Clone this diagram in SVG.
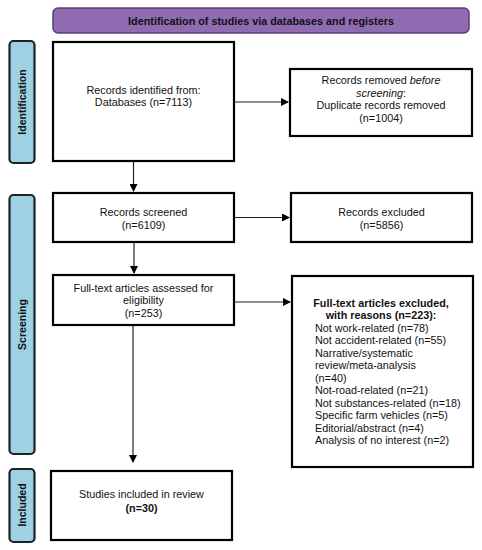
<svg xmlns="http://www.w3.org/2000/svg" width="482" height="550" viewBox="0 0 482 550">
<defs>
<marker id="ah" markerWidth="8" markerHeight="8" refX="7" refY="4" orient="auto" markerUnits="userSpaceOnUse">
<path d="M0,0 L8,4 L0,8 Z" fill="#000"/>
</marker>
<style>
text{font-family:"Liberation Sans",Arial,sans-serif;font-size:10.8px;fill:#111}
.b{font-weight:bold}
.box{fill:#fff;stroke:#000;stroke-width:2.2}
.side{fill:#9ed2e3;stroke:#1b2328;stroke-width:2.2}
.head{fill:#8f6bb2;stroke:#5b3f7c;stroke-width:1.5}
.con{stroke:#222;stroke-width:1.2;fill:none;marker-end:url(#ah)}
.sl{font-weight:bold;font-size:10.5px}
</style>
</defs>
<rect width="482" height="550" fill="#fff"/>
<g id="header">
<rect class="head" x="53" y="8" width="416" height="25" rx="5"/>
<text class="b" x="261" y="24.5" text-anchor="middle">Identification of studies via databases and registers</text>
</g>
<g id="side-identification">
<rect class="side" x="9.5" y="41" width="25" height="122" rx="4"/>
<text class="sl" transform="translate(26,102) rotate(-90)" text-anchor="middle">Identification</text>
</g>
<g id="side-screening">
<rect class="side" x="9.5" y="195" width="25" height="259" rx="4"/>
<text class="sl" transform="translate(26,324.5) rotate(-90)" text-anchor="middle">Screening</text>
</g>
<g id="side-included">
<rect class="side" x="9.5" y="469" width="25" height="73" rx="4"/>
<text class="sl" transform="translate(26,505) rotate(-90)" text-anchor="middle">Included</text>
</g>
<g id="identified">
<rect class="box" x="53" y="42" width="181" height="119"/>
<text x="143.5" y="94" text-anchor="middle">Records identified from:</text>
<text x="143.5" y="106" text-anchor="middle">Databases (n=7113)</text>
</g>
<g id="removed">
<rect class="box" x="290" y="69" width="182" height="67"/>
<text x="381" y="84" text-anchor="middle">Records removed <tspan font-style="italic">before</tspan></text>
<text x="381" y="96.5" text-anchor="middle"><tspan font-style="italic">screening</tspan>:</text>
<text x="381" y="109" text-anchor="middle">Duplicate records removed</text>
<text x="381" y="121.5" text-anchor="middle">(n=1004)</text>
</g>
<g id="screened">
<rect class="box" x="53" y="193" width="181" height="49"/>
<text x="143.5" y="216" text-anchor="middle">Records screened</text>
<text x="143.5" y="229" text-anchor="middle">(n=6109)</text>
</g>
<g id="excluded">
<rect class="box" x="291" y="193" width="181" height="49"/>
<text x="381.5" y="216" text-anchor="middle">Records excluded</text>
<text x="381.5" y="229" text-anchor="middle">(n=5856)</text>
</g>
<g id="fulltext">
<rect class="box" x="53" y="275" width="181" height="50"/>
<text x="143.5" y="291.5" text-anchor="middle">Full-text articles assessed for</text>
<text x="143.5" y="304" text-anchor="middle">eligibility</text>
<text x="143.5" y="316.5" text-anchor="middle">(n=253)</text>
</g>
<g id="ft-excluded">
<rect class="box" x="292" y="276" width="181" height="191"/>
<text class="b" x="381" y="306.5" text-anchor="middle">Full-text articles excluded,</text>
<text class="b" x="381" y="319" text-anchor="middle">with reasons (n=223):</text>
<text x="315" y="331.5">Not work-related (n=78)</text>
<text x="315" y="344">Not accident-related (n=55)</text>
<text x="315" y="356.5">Narrative/systematic</text>
<text x="315" y="369">review/meta-analysis</text>
<text x="315" y="381.5">(n=40)</text>
<text x="315" y="394">Not-road-related (n=21)</text>
<text x="315" y="406.5">Not substances-related (n=18)</text>
<text x="315" y="419">Specific farm vehicles (n=5)</text>
<text x="315" y="431.5">Editorial/abstract (n=4)</text>
<text x="315" y="444">Analysis of no interest (n=2)</text>
</g>
<g id="included">
<rect class="box" x="51" y="471" width="181" height="69"/>
<text x="141.5" y="497.5" text-anchor="middle">Studies included in review</text>
<text class="b" x="141.5" y="511.5" text-anchor="middle">(n=30)</text>
</g>
<g id="connectors">
<line class="con" x1="235" y1="102" x2="288" y2="102"/>
<line class="con" x1="133.5" y1="162" x2="133.5" y2="191"/>
<line class="con" x1="235" y1="217.5" x2="289" y2="217.5"/>
<line class="con" x1="134" y1="243" x2="134" y2="273"/>
<line class="con" x1="235" y1="302" x2="290" y2="302"/>
<line class="con" x1="133" y1="326" x2="133" y2="462"/>
</g>
</svg>
